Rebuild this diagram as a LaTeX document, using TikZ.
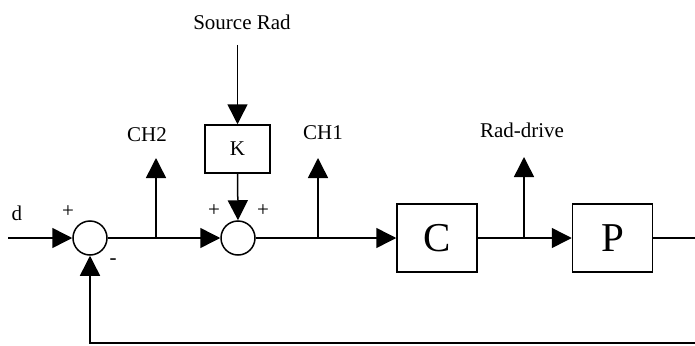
\documentclass[tikz,border=0pt]{standalone}
\usepackage{fontspec}
\setmainfont{Liberation Serif}
\usetikzlibrary{arrows.meta}
\begin{document}
\begin{tikzpicture}[x=1pt,y=-1pt,
  sig/.style={line width=1.5pt},
  arr/.style={sig,-{Triangle[length=20pt,width=20pt]}},
  sumnode/.style={circle,draw,line width=1.5pt,minimum size=34pt,inner sep=0pt},
  blockbig/.style={draw,line width=1.5pt,minimum width=80pt,minimum height=68pt,inner sep=0pt,font=\fontsize{41}{45}\selectfont},
  blocksmall/.style={draw,line width=1.5pt,minimum width=65pt,minimum height=48pt,inner sep=0pt,font=\fontsize{21}{25}\selectfont},
  lbl/.style={inner sep=0pt,font=\fontsize{21}{25}\selectfont}]
\useasboundingbox (0,0) rectangle (695,345);
\node[sumnode] (s1) at (90,238) {};
\node[sumnode] (s2) at (238,238) {};
\node[blocksmall] (K) at (237.5,149) {K};
\node[blockbig] (C) at (437,238) {C};
\node[blockbig] (P) at (612.5,238) {P};
\coordinate (in) at (8,238);
\coordinate (b2) at (156,238);
\coordinate (b1) at (318,238);
\coordinate (b3) at (524,238);
\coordinate (t2) at (156,158);
\coordinate (t1) at (318,158);
\coordinate (t3) at (524,157);
\coordinate (src) at (237.5,45);
\coordinate (fr) at (697,238);
\coordinate (fb) at (697,343);
\node[lbl] (src lbl) at (242,22) {Source Rad};
\node[lbl] (ch2) at (147,135) {CH2};
\node[lbl] (ch1) at (323,133) {CH1};
\node[lbl] (rd) at (522,130) {Rad-drive};
\node[lbl] (d) at (17,213) {d};
\node[lbl] (p1) at (68,212) {+};
\node[lbl] (m1) at (113,262) {-};
\node[lbl] (p2) at (214,211) {+};
\node[lbl] (p3) at (263,211) {+};
\draw[arr] (in) -- (s1.west);
\draw[arr] (s1.east) -- (s2.west);
\draw[arr] (b2) -- (t2);
\draw[arr] (src) -- (K.north);
\draw[arr] (K.south) -- (s2.north);
\draw[arr] (s2.east) -- (C.west);
\draw[arr] (b1) -- (t1);
\draw[arr] (C.east) -- (P.west);
\draw[arr] (b3) -- (t3);
\draw[arr] (P.east) -- (fr) -- (fb) -| (s1.south);
\end{tikzpicture}
\end{document}
